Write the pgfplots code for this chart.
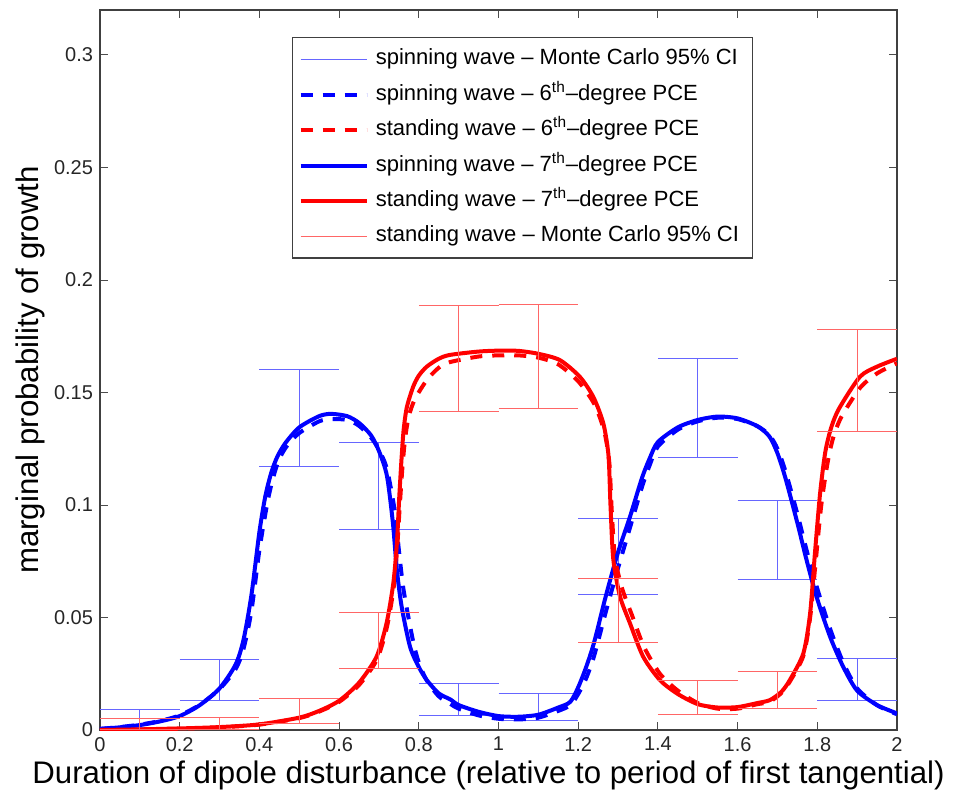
\documentclass[border=0pt]{standalone}
\usepackage{pgfplots}
\pgfplotsset{compat=1.18}
\usepackage{fontspec}
\setmainfont{Liberation Sans}
\begin{document}
\begin{tikzpicture}
\begin{axis}[
  name=ax,
  scale only axis,
  width=398.5pt, height=360pt,
  xmin=0, xmax=2, ymin=0, ymax=0.32,
  xtick={0,0.2,0.4,0.6,0.8,1,1.2,1.4,1.6,1.8,2},
  ytick={0,0.05,0.1,0.15,0.2,0.25,0.3},
  scaled x ticks=false, scaled y ticks=false,
  /pgf/number format/assume math mode=true,
  xticklabel style={/pgf/number format/fixed,/pgf/number format/precision=2},
  yticklabel style={/pgf/number format/fixed,/pgf/number format/precision=2},
  tick label style={font=\fontsize{10}{12}\selectfont, text=black!85},
  tick align=inside, tick pos=both,
  major tick length=4pt,
  every tick/.style={black!70, line width=0.5pt},
  axis line style={black!75, line width=0.6pt},
  xlabel={Duration of dipole disturbance (relative to period of first tangential)},
  ylabel={marginal probability of growth},
  label style={font=\fontsize{15.6}{18}\selectfont},
  x label style={at={(axis description cs:0.4875,-0.0625)}, anchor=center},
  y label style={at={(axis description cs:-0.0878,0.5)}, anchor=center, rotate=0},
  unbounded coords=jump,
  legend cell align=left,
  legend style={at={(0.241,0.9625)}, anchor=north west, font=\fontsize{11}{13}\selectfont,
    draw=black!75, line width=0.6pt, inner xsep=3pt, inner ysep=2pt,
    nodes={text height=8pt, text depth=2.5pt, inner sep=3.6pt}},
  legend image code/.code={\draw[#1] (0pt,0pt) -- (33pt,0pt);},
]
% spinning wave - Monte Carlo 95% CI
\addplot[blue!60, line width=0.5pt] coordinates {
(0,0.0093) (0.2,0.0093) (nan,nan) (0.1,0.0093) (0.1,0.0012) (nan,nan) (0,0.0012) (0.2,0.0012) (nan,nan)
(0.2,0.0314) (0.4,0.0314) (nan,nan) (0.3,0.0314) (0.3,0.0129) (nan,nan) (0.2,0.0129) (0.4,0.0129) (nan,nan)
(0.4,0.1604) (0.6,0.1604) (nan,nan) (0.5,0.1604) (0.5,0.1170) (nan,nan) (0.4,0.1170) (0.6,0.1170) (nan,nan)
(0.6,0.1279) (0.8,0.1279) (nan,nan) (0.7,0.1279) (0.7,0.0889) (nan,nan) (0.6,0.0889) (0.8,0.0889) (nan,nan)
(0.8,0.0207) (1.0,0.0207) (nan,nan) (0.9,0.0207) (0.9,0.0065) (nan,nan) (0.8,0.0065) (1.0,0.0065) (nan,nan)
(1.0,0.0163) (1.2,0.0163) (nan,nan) (1.1,0.0163) (1.1,0.0041) (nan,nan) (1.0,0.0041) (1.2,0.0041) (nan,nan)
(1.2,0.0941) (1.4,0.0941) (nan,nan) (1.3,0.0941) (1.3,0.0604) (nan,nan) (1.2,0.0604) (1.4,0.0604) (nan,nan)
(1.4,0.1652) (1.6,0.1652) (nan,nan) (1.5,0.1652) (1.5,0.1210) (nan,nan) (1.4,0.1210) (1.6,0.1210) (nan,nan)
(1.6,0.1018) (1.8,0.1018) (nan,nan) (1.7,0.1018) (1.7,0.0670) (nan,nan) (1.6,0.0670) (1.8,0.0670) (nan,nan)
(1.8,0.0319) (2.0,0.0319) (nan,nan) (1.9,0.0319) (1.9,0.0133) (nan,nan) (1.8,0.0133) (2.0,0.0133)
};
\addlegendentry{spinning wave -- Monte Carlo 95\% CI}
% spinning wave - 6th-degree PCE
\addplot[blue, line width=2pt, dash pattern=on 6pt off 5pt, smooth, tension=0.45] coordinates {
(0,0.0005) (0.05,0.0013) (0.1,0.0024) (0.15,0.0040) (0.2,0.0065) (0.25,0.0112) (0.3,0.0182)
(0.34,0.027) (0.36,0.036) (0.38,0.053) (0.40,0.080) (0.42,0.101) (0.435,0.1125) (0.45,0.1205) (0.47,0.1265)
(0.50,0.132) (0.55,0.1372) (0.58,0.1382) (0.62,0.1378) (0.65,0.1352) (0.68,0.1300) (0.70,0.1245)
(0.72,0.116) (0.74,0.097) (0.75,0.080) (0.762,0.062) (0.785,0.040) (0.80,0.030) (0.82,0.022)
(0.85,0.0150) (0.88,0.0115) (0.9,0.0095) (0.95,0.0065) (1.0,0.0050) (1.05,0.0047) (1.1,0.0055)
(1.15,0.0085) (1.18,0.011) (1.20,0.016) (1.22,0.023) (1.24,0.033) (1.27,0.053) (1.30,0.072)
(1.33,0.090) (1.36,0.108) (1.38,0.118) (1.40,0.126) (1.45,0.1335) (1.5,0.1372) (1.55,0.1388)
(1.6,0.1382) (1.65,0.1350) (1.68,0.1310) (1.70,0.1250) (1.72,0.1150) (1.75,0.0960) (1.773,0.080)
(1.798,0.0640) (1.832,0.045) (1.865,0.030) (1.9,0.0185) (1.95,0.0110) (2.0,0.0070)
};
\addlegendentry{spinning wave -- 6\textsuperscript{th}--degree PCE}
% standing wave - 6th-degree PCE
\addplot[red, line width=2pt, dash pattern=on 6pt off 5pt, smooth, tension=0.45] coordinates {
(0,0) (0.1,0.0002) (0.2,0.0006) (0.3,0.0012) (0.4,0.0024) (0.5,0.0053) (0.55,0.0082) (0.6,0.0125)
(0.65,0.020) (0.694,0.031) (0.719,0.045) (0.736,0.062) (0.745,0.079) (0.752,0.099) (0.759,0.117)
(0.766,0.130) (0.775,0.1395) (0.79,0.147) (0.82,0.1555) (0.85,0.1610) (0.878,0.1635) (0.95,0.1660) (1.0,0.1665) (1.05,0.1665)
(1.1,0.1655) (1.15,0.1625) (1.2,0.1550) (1.24,0.145) (1.265,0.133) (1.278,0.119) (1.284,0.098)
(1.292,0.077) (1.31,0.063) (1.335,0.051) (1.365,0.037) (1.405,0.025) (1.45,0.0175) (1.5,0.0120)
(1.55,0.0095) (1.6,0.0095) (1.65,0.0115) (1.68,0.0125) (1.71,0.0165) (1.731,0.0215) (1.765,0.033)
(1.782,0.050) (1.796,0.075) (1.81,0.100) (1.826,0.119) (1.84,0.130) (1.86,0.139) (1.907,0.152) (1.95,0.1585) (2.0,0.163)
};
\addlegendentry{standing wave -- 6\textsuperscript{th}--degree PCE}
% spinning wave - 7th-degree PCE
\addplot[blue, line width=2pt, smooth, tension=0.45] coordinates {
(0,0.0005) (0.05,0.0012) (0.1,0.0022) (0.15,0.0038) (0.2,0.0062) (0.25,0.0110) (0.3,0.0185)
(0.34,0.029) (0.36,0.040) (0.38,0.060) (0.40,0.088) (0.415,0.104) (0.43,0.1145) (0.445,0.1215) (0.465,0.1275)
(0.50,0.1345) (0.55,0.1395) (0.58,0.1405) (0.62,0.1395) (0.65,0.1365) (0.68,0.131) (0.70,0.124)
(0.72,0.113) (0.735,0.092) (0.745,0.0711) (0.757,0.0548) (0.778,0.037) (0.80,0.028) (0.82,0.0222)
(0.85,0.0163) (0.88,0.0135) (0.9,0.0111) (0.95,0.0081) (1.0,0.0062) (1.05,0.0059) (1.1,0.0068)
(1.15,0.0100) (1.18,0.0125) (1.20,0.019) (1.22,0.028) (1.24,0.039) (1.27,0.0600) (1.30,0.0790)
(1.33,0.0948) (1.36,0.112) (1.38,0.121) (1.40,0.128) (1.45,0.1345) (1.5,0.1378) (1.55,0.1393)
(1.6,0.1385) (1.65,0.1350) (1.68,0.1304) (1.70,0.123) (1.72,0.112) (1.75,0.092) (1.773,0.0756)
(1.798,0.0593) (1.832,0.0415) (1.865,0.0281) (1.9,0.0175) (1.95,0.0111) (2.0,0.0074)
};
\addlegendentry{spinning wave -- 7\textsuperscript{th}--degree PCE}
% standing wave - 7th-degree PCE
\addplot[red, line width=2pt, smooth, tension=0.45] coordinates {
(0,0) (0.1,0.0003) (0.2,0.0007) (0.3,0.0013) (0.4,0.0025) (0.5,0.0055) (0.55,0.0085) (0.6,0.013)
(0.65,0.021) (0.694,0.0326) (0.719,0.0474) (0.736,0.0652) (0.745,0.083) (0.751,0.1037) (0.757,0.1215)
(0.762,0.1335) (0.770,0.1435) (0.786,0.1526) (0.80,0.1575) (0.82,0.1615) (0.85,0.1650) (0.878,0.1667) (0.95,0.1682) (1.0,0.1686) (1.05,0.1685)
(1.1,0.1672) (1.154,0.1644) (1.204,0.157) (1.238,0.148) (1.263,0.1363) (1.276,0.122) (1.281,0.100)
(1.288,0.076) (1.305,0.0593) (1.33,0.0474) (1.363,0.0326) (1.405,0.0222) (1.45,0.016) (1.5,0.0115)
(1.55,0.0100) (1.6,0.0102) (1.65,0.0120) (1.681,0.0133) (1.71,0.017) (1.731,0.0222) (1.765,0.0341)
(1.782,0.0519) (1.794,0.0785) (1.807,0.1052) (1.820,0.1235) (1.835,0.1345) (1.855,0.1430) (1.907,0.157) (1.95,0.1615) (2.0,0.165)
};
\addlegendentry{standing wave -- 7\textsuperscript{th}--degree PCE}
% standing wave - Monte Carlo 95% CI
\addplot[red!60, line width=0.5pt] coordinates {
(0,0.0049) (0.2,0.0049) (nan,nan) (0.1,0.0049) (0.1,0.0004) (nan,nan) (0,0.0004) (0.2,0.0004) (nan,nan)
(0.2,0.0056) (0.4,0.0056) (nan,nan) (0.3,0.0056) (0.3,0.0004) (nan,nan) (0.2,0.0004) (0.4,0.0004) (nan,nan)
(0.4,0.0141) (0.6,0.0141) (nan,nan) (0.5,0.0141) (0.5,0.0028) (nan,nan) (0.4,0.0028) (0.6,0.0028) (nan,nan)
(0.6,0.0521) (0.8,0.0521) (nan,nan) (0.7,0.0521) (0.7,0.0274) (nan,nan) (0.6,0.0274) (0.8,0.0274) (nan,nan)
(0.8,0.1888) (1.0,0.1888) (nan,nan) (0.9,0.1888) (0.9,0.1416) (nan,nan) (0.8,0.1416) (1.0,0.1416) (nan,nan)
(1.0,0.1893) (1.2,0.1893) (nan,nan) (1.1,0.1893) (1.1,0.1427) (nan,nan) (1.0,0.1427) (1.2,0.1427) (nan,nan)
(1.2,0.0673) (1.4,0.0673) (nan,nan) (1.3,0.0673) (1.3,0.0390) (nan,nan) (1.2,0.0390) (1.4,0.0390) (nan,nan)
(1.4,0.0222) (1.6,0.0222) (nan,nan) (1.5,0.0222) (1.5,0.0070) (nan,nan) (1.4,0.0070) (1.6,0.0070) (nan,nan)
(1.6,0.0262) (1.8,0.0262) (nan,nan) (1.7,0.0262) (1.7,0.0096) (nan,nan) (1.6,0.0096) (1.8,0.0096) (nan,nan)
(1.8,0.1782) (2.0,0.1782) (nan,nan) (1.9,0.1782) (1.9,0.1327) (nan,nan) (1.8,0.1327) (2.0,0.1327)
};
\addlegendentry{standing wave -- Monte Carlo 95\% CI}
\end{axis}
\path ([shift={(-50pt,-32.5pt)}]ax.south west) rectangle ([shift={(32pt,5pt)}]ax.north east);
\end{tikzpicture}
\end{document}
